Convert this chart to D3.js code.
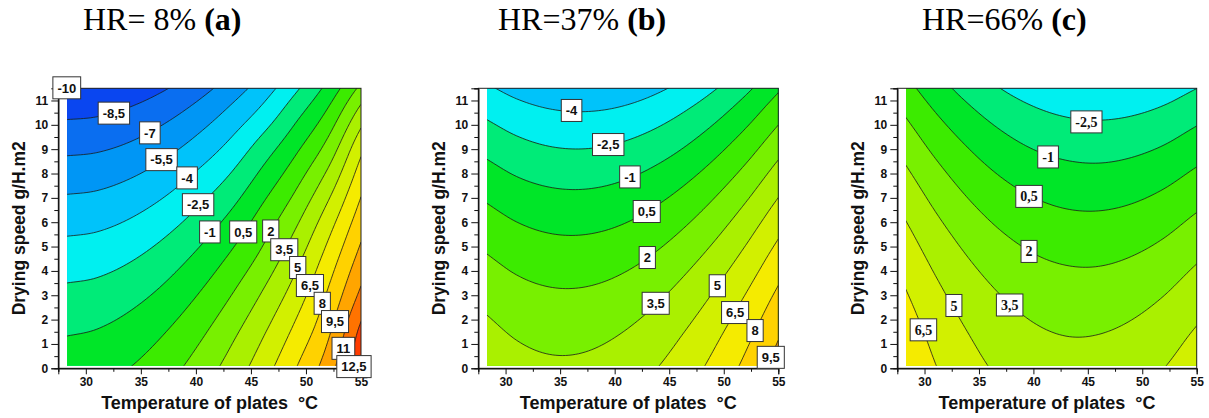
<!DOCTYPE html>
<html>
<head>
<meta charset="utf-8">
<script src="https://cdn.jsdelivr.net/npm/d3@7"></script>
<style>
  body { margin: 0; background: #fff; }
  svg { display: block; }
</style>
</head>
<body>
<svg id="chart" width="1209" height="418"></svg>
<script>
// Sampling grid: plate temperature (°C) columns, drying speed (g/H.m2) rows
const tempNodes  = [28, 31, 34, 37, 40, 43, 46, 49, 52, 55];
const speedNodes = [0, 1.5, 3, 4.5, 6, 7.5, 9, 10.5, 12];

// Response values on the grid, one row per drying speed (bottom row first)
const gridA = [
  [-0.21,  0.00,  0.52,  1.36,  2.53,  4.00,  5.80,  7.92, 10.30, 13.90],
  [-1.13, -0.93, -0.42,  0.40,  1.54,  3.00,  4.76,  6.82,  9.23, 12.90],
  [-2.15, -1.97, -1.47, -0.67,  0.45,  1.88,  3.62,  5.68,  8.20, 11.35],
  [-3.27, -3.10, -2.62, -1.83, -0.73,  0.67,  2.38,  4.50,  7.10, 10.05],
  [-4.50, -4.34, -3.87, -3.10, -2.02, -0.64,  1.15,  3.21,  5.84,  8.85],
  [-5.84, -5.69, -5.23, -4.48, -3.42, -2.07, -0.25,  1.76,  4.31,  7.60],
  [-7.28, -7.14, -6.70, -5.96, -4.93, -3.60, -1.80,  0.18,  2.58,  6.15],
  [-8.81, -8.68, -8.25, -7.53, -6.52, -5.22, -3.62, -1.55,  0.75,  4.05],
  [-10.46,-10.34, -9.92, -9.22, -8.23, -6.95, -5.39, -3.45, -1.20,  1.50]
];
const gridB = [
  [ 4.58,  4.03,  3.77,  3.81,  4.14,  4.76,  5.67,  6.88,  8.38, 10.17],
  [ 3.91,  3.33,  3.05,  3.06,  3.37,  3.97,  4.86,  6.04,  7.52,  9.29],
  [ 3.11,  2.51,  2.21,  2.20,  2.48,  3.05,  3.92,  5.08,  6.54,  8.29],
  [ 2.19,  1.57,  1.24,  1.21,  1.47,  2.02,  2.87,  4.00,  5.43,  7.16],
  [ 1.15,  0.51,  0.16,  0.10,  0.33,  0.86,  1.69,  2.80,  4.21,  5.91],
  [-0.01, -0.68, -1.05, -1.13, -0.92, -0.41,  0.39,  1.48,  2.86,  4.54],
  [-1.30, -1.99, -2.39, -2.49, -2.30, -1.81, -1.04,  0.03,  1.39,  3.05],
  [-2.71, -3.42, -3.84, -3.96, -3.80, -3.34, -2.58, -1.54, -0.20,  1.44],
  [-4.24, -4.97, -5.41, -5.56, -5.42, -4.98, -4.25, -3.23, -1.91, -0.30]
];
const gridC = [
  [ 7.88,  6.57,  5.54,  4.77,  4.28,  4.05,  4.10,  4.41,  5.00,  5.85],
  [ 7.37,  6.04,  4.98,  4.19,  3.67,  3.42,  3.45,  3.74,  4.30,  5.13],
  [ 6.74,  5.39,  4.31,  3.50,  2.96,  2.68,  2.68,  2.95,  3.49,  4.30],
  [ 6.01,  4.64,  3.53,  2.70,  2.13,  1.84,  1.81,  2.06,  2.57,  3.36],
  [ 5.17,  3.77,  2.64,  1.78,  1.20,  0.88,  0.83,  1.05,  1.54,  2.30],
  [ 4.22,  2.80,  1.64,  0.76,  0.15, -0.19, -0.27, -0.07,  0.40,  1.14],
  [ 3.16,  1.71,  0.54, -0.37, -1.01, -1.37, -1.47, -1.29, -0.85, -0.13],
  [ 1.98,  0.51, -0.68, -1.61, -2.27, -2.66, -2.78, -2.63, -2.21, -1.52],
  [ 0.70, -0.79, -2.01, -2.97, -3.65, -4.06, -4.20, -4.08, -3.68, -3.01]
];

// Contour levels (lower bound of each band)
const levels = [-11.5, -10, -8.5, -7, -5.5, -4, -2.5, -1, 0.5, 2, 3.5, 5, 6.5, 8, 9.5, 11, 12.5];
const bandColors = [
  "#0a28e0", "#0a46f0", "#0a6ef0", "#0096f5", "#00c3fa", "#00f0f0", "#00eb78", "#00e628",
  "#3ceb00", "#78f000", "#aaf000", "#d2f000", "#f5eb00", "#ffd200", "#ffa500", "#ff7300", "#ff3c00"
];

// Contour labels: [level, temperature, speed]
const labelsA = [
  [-10, 28.27, 11.52], [-8.5, 32.55, 10.48], [-7, 35.82, 9.67], [-5.5, 36.88, 8.57],
  [-4, 39.2, 7.82], [-2.5, 40.2, 6.72], [-1, 41.27, 5.6], [0.5, 44.3, 5.6],
  [2, 46.8, 5.64], [3.5, 48.03, 4.87], [5, 49.25, 4.14], [6.5, 50.36, 3.4],
  [8, 51.48, 2.67], [9.5, 52.64, 1.92], [11, 53.4, 0.82], [12.5, 54.36, 0.07]
];
const labelsB = [
  [-4, 36.05, 10.59], [-2.5, 39.41, 9.19], [-1, 41.4, 7.86], [0.5, 42.94, 6.44],
  [2, 42.99, 4.55], [3.5, 43.76, 2.67], [5, 49.41, 3.39], [6.5, 51.04, 2.29],
  [8, 52.87, 1.55], [9.5, 54.31, 0.45]
];
const labelsC = [
  [-2.5, 44.87, 10.12], [-1, 41.35, 8.68], [0.5, 39.6, 7.06], [2, 39.6, 4.8],
  [3.5, 37.82, 2.6], [5, 32.7, 2.58], [6.5, 29.9, 1.58]
];

const panelTitles = [["HR= 8% ", "(a)"], ["HR=37% ", "(b)"], ["HR=66% ", "(c)"]];
const xMajorTicks = [30, 35, 40, 45, 50, 55];
const xMinorTicks = [27.5, 32.5, 37.5, 42.5, 47.5, 52.5];
const yMajorTicks = [0, 1, 2, 3, 4, 5, 6, 7, 8, 9, 10, 11];
const yMinorTicks = [0.5, 1.5, 2.5, 3.5, 4.5, 5.5, 6.5, 7.5, 8.5, 9.5, 10.5, 11.5];

const xAxisDomain = [27.5, 55];
const yAxisDomain = [0, 11.5];
const fillDomainT = [28.3, 55];
const fillDomainV = [0.1, 11.5];

const svg = d3.select("#chart");
const SANS = "'Liberation Sans', Arial, sans-serif";
const SERIF = "'Liberation Serif', 'Times New Roman', serif";

// Catmull-Rom refinement so the contour bands come out smooth
function catmull(p0, p1, p2, p3, t) {
  return 0.5 * ((2 * p1) + (-p0 + p2) * t + (2 * p0 - 5 * p1 + 4 * p2 - p3) * t * t +
    (-p0 + 3 * p1 - 3 * p2 + p3) * t * t * t);
}
function refine(grid, f) {
  const rows = grid.length, cols = grid[0].length;
  const at = (r, c) => {
    if (c < 0) return 2 * at(r, 0) - at(r, 1);
    if (c >= cols) return 2 * at(r, cols - 1) - at(r, cols - 2);
    if (r < 0) return 2 * at(0, c) - at(1, c);
    if (r >= rows) return 2 * at(rows - 1, c) - at(rows - 2, c);
    return grid[r][c];
  };
  const nx = (cols - 1) * f + 1, ny = (rows - 1) * f + 1;
  const values = new Array(nx * ny);
  for (let j = 0; j < ny; j++) {
    const v = j / f, r = Math.min(Math.floor(v), rows - 2), tv = v - r;
    for (let i = 0; i < nx; i++) {
      const u = i / f, c = Math.min(Math.floor(u), cols - 2), tu = u - c;
      const k = [-1, 0, 1, 2].map(dr =>
        catmull(at(r + dr, c - 1), at(r + dr, c), at(r + dr, c + 1), at(r + dr, c + 2), tu));
      values[j * nx + i] = catmull(k[0], k[1], k[2], k[3], tv);
    }
  }
  return { values, nx, ny };
}

const panels = [
  { grid: gridA, labels: labelsA, title: panelTitles[0], left: 58.3, right: 361.0, titleX: 83, labelFont: SANS, labelSize: 13 },
  { grid: gridB, labels: labelsB, title: panelTitles[1], left: 478.3, right: 778.3, titleX: 498, labelFont: SANS, labelSize: 13 },
  { grid: gridC, labels: labelsC, title: panelTitles[2], left: 897.3, right: 1196.7, titleX: 922, labelFont: SERIF, labelSize: 14 }
];

const plotTop = 88.3, plotBottom = 368.3;
const fmt = v => String(v).replace(".", ",");

panels.forEach((p, idx) => {
  const x = d3.scaleLinear().domain(xAxisDomain).range([p.left, p.right]);
  const y = d3.scaleLinear().domain(yAxisDomain).range([plotBottom, plotTop]);
  const g = svg.append("g");

  const clipId = "clip" + idx;
  svg.append("clipPath").attr("id", clipId).append("rect")
    .attr("x", x(fillDomainT[0])).attr("y", y(fillDomainV[1]))
    .attr("width", x(fillDomainT[1]) - x(fillDomainT[0]))
    .attr("height", y(fillDomainV[0]) - y(fillDomainV[1]));

  const F = 10;
  const { values, nx, ny } = refine(p.grid, F);
  const stepT = tempNodes[1] - tempNodes[0];
  const stepV = speedNodes[1] - speedNodes[0];
  const proj = d3.geoTransform({
    point(px, py) {
      const T = tempNodes[0] + (px - 0.5) * stepT / F;
      const V = speedNodes[0] + (py - 0.5) * stepV / F;
      this.stream.point(x(T), y(V));
    }
  });
  const path = d3.geoPath(proj);
  const bands = d3.contours().size([nx, ny]).thresholds(levels)(values);

  const plot = g.append("g").attr("clip-path", `url(#${clipId})`);
  plot.selectAll("path.band").data(bands).join("path")
    .attr("class", "band")
    .attr("d", path)
    .attr("fill", d => bandColors[levels.indexOf(d.value)])
    .attr("stroke", d => bandColors[levels.indexOf(d.value)])
    .attr("stroke-width", 0.4);
  plot.selectAll("path.iso").data(bands.filter(d => d.value !== levels[0])).join("path")
    .attr("class", "iso")
    .attr("d", path)
    .attr("fill", "none")
    .attr("stroke", "#1a1a1a")
    .attr("stroke-width", 0.8);

  // frame
  g.append("rect")
    .attr("x", x(xAxisDomain[0])).attr("y", y(yAxisDomain[1]))
    .attr("width", x(xAxisDomain[1]) - x(xAxisDomain[0]))
    .attr("height", y(yAxisDomain[0]) - y(yAxisDomain[1]))
    .attr("fill", "none").attr("stroke", "#222").attr("stroke-width", 1);

  // axes
  const xMajor = g.append("g").attr("transform", `translate(0,${plotBottom})`)
    .call(d3.axisBottom(x).tickValues(xMajorTicks).tickSize(6).tickPadding(3).tickFormat(d3.format("d")));
  const xMinor = g.append("g").attr("transform", `translate(0,${plotBottom})`)
    .call(d3.axisBottom(x).tickValues(xMinorTicks).tickSize(3.5).tickFormat(""));
  const yMajor = g.append("g").attr("transform", `translate(${p.left},0)`)
    .call(d3.axisLeft(y).tickValues(yMajorTicks).tickSize(7).tickPadding(3).tickFormat(d3.format("d")));
  const yMinor = g.append("g").attr("transform", `translate(${p.left},0)`)
    .call(d3.axisLeft(y).tickValues(yMinorTicks).tickSize(4).tickFormat(""));
  [xMajor, xMinor, yMajor, yMinor].forEach(a => {
    a.select(".domain").attr("stroke", "#111").attr("stroke-width", 1);
    a.selectAll(".tick line").attr("stroke", "#111").attr("stroke-width", 1);
    a.selectAll("text").attr("font-family", SANS).attr("font-weight", "bold")
      .attr("font-size", 12).attr("fill", "#111");
  });

  // axis titles
  g.append("text")
    .attr("x", (x(xAxisDomain[0]) + x(xAxisDomain[1])) / 2).attr("y", 409)
    .attr("text-anchor", "middle").attr("font-family", SANS).attr("font-weight", "bold")
    .attr("font-size", 18).attr("fill", "#111").style("white-space", "pre")
    .text("Temperature of plates  °C");
  g.append("text")
    .attr("transform", `translate(${p.left - 33.5},${(plotTop + plotBottom) / 2}) rotate(-90)`)
    .attr("text-anchor", "middle").attr("font-family", SANS).attr("font-weight", "bold")
    .attr("font-size", 17.5).attr("fill", "#111")
    .text("Drying speed g/H.m2");

  // contour labels
  p.labels.forEach(([lv, T, V]) => {
    const lg = g.append("g").attr("transform", `translate(${x(T)},${y(V)})`);
    const t = lg.append("text").attr("text-anchor", "middle").attr("dy", "0.36em")
      .attr("font-family", p.labelFont).attr("font-weight", "bold")
      .attr("font-size", p.labelSize).attr("fill", "#111").text(fmt(lv));
    const w = t.node().getComputedTextLength() + 9;
    lg.insert("rect", "text").attr("x", -w / 2).attr("y", -11).attr("width", w).attr("height", 22)
      .attr("fill", "#fff").attr("stroke", "#333").attr("stroke-width", 1);
  });

  // panel title
  const tt = svg.append("text").attr("x", p.titleX).attr("y", 30)
    .attr("font-family", SERIF).attr("font-size", 32).attr("fill", "#000")
    .style("white-space", "pre");
  tt.append("tspan").text(p.title[0]);
  tt.append("tspan").attr("font-weight", "bold").text(p.title[1]);
});
</script>
</body>
</html>
